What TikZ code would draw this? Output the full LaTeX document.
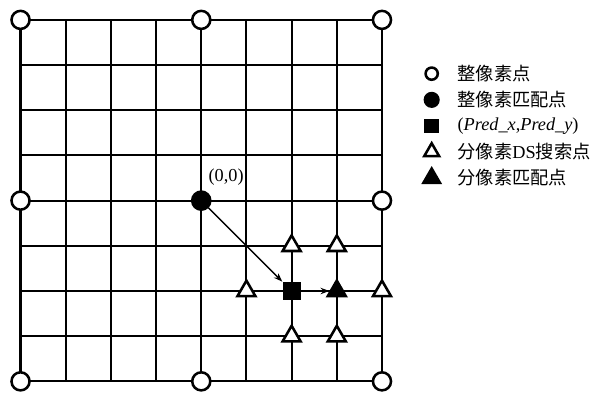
\documentclass[tikz,border=0pt]{standalone}
\usepackage{fontspec}
\setmainfont{Liberation Serif}
\newfontfamily\cjk{Noto Sans CJK SC}
\usetikzlibrary{shapes.geometric,arrows.meta}

\begin{document}
\begin{tikzpicture}[scale=1.0,
  font=\fontsize{11.5}{13}\selectfont,
  pix/.style={circle,draw,line width=1.6pt,fill=white,minimum size=0.4cm,inner sep=0pt},
  pixm/.style={pix,fill=black},
  pred/.style={rectangle,fill=black,minimum size=0.4cm,inner sep=0pt},
  sub/.style={regular polygon,regular polygon sides=3,draw,line width=1.6pt,fill=white,minimum size=0.46cm,inner sep=0pt},
  subm/.style={sub,fill=black},
  mv/.style={line width=0.9pt,-{Stealth[length=5.5pt,width=4pt]}}]
\useasboundingbox (-0.454,-0.265) rectangle (12.67,8.44);
\draw[line width=1.3pt] (0,0) grid (8,8);
\foreach \x/\y [count=\i] in {0/0,4/0,8/0,0/4,8/4,0/8,4/8,8/8}
  \node[pix] (p\i) at (\x,\y) {};
\node[pixm] (m) at (4,4) {};
\node (mlab) at (4.55,4.53) {(0,0)};
\foreach \x/\y [count=\i] in {6/3,7/3,5/2,8/2,6/1,7/1}
  \node[sub] (s\i) at (\x,\y) {};
\node[pred] (pr) at (6,2) {};
\node[subm] (sm) at (7,2) {};
\draw[mv] (m) -- (pr);
\draw[mv] (pr) -- (sm);
% legend
\node[pix,minimum size=0.27cm] (l1) at (9.1,6.81) {};
\node[pixm,minimum size=0.3cm] (l2) at (9.1,6.23) {};
\node[pred,minimum size=0.32cm] (l3) at (9.1,5.65) {};
\node[sub,minimum size=0.38cm] (l4) at (9.1,5.08) {};
\node[subm,minimum size=0.42cm] (l5) at (9.1,4.50) {};
\node[anchor=west] (t1) at (9.55,6.81) {\cjk 整像素点};
\node[anchor=west] (t2) at (9.55,6.23) {\cjk 整像素匹配点};
\node[anchor=west] (t3) at (9.55,5.65) {(\textit{Pred\_x},\textit{Pred\_y})};
\node[anchor=west] (t4) at (9.55,5.08) {{\cjk 分像素}DS{\cjk 搜索点}};
\node[anchor=west] (t5) at (9.55,4.50) {\cjk 分像素匹配点};
\end{tikzpicture}
\end{document}
